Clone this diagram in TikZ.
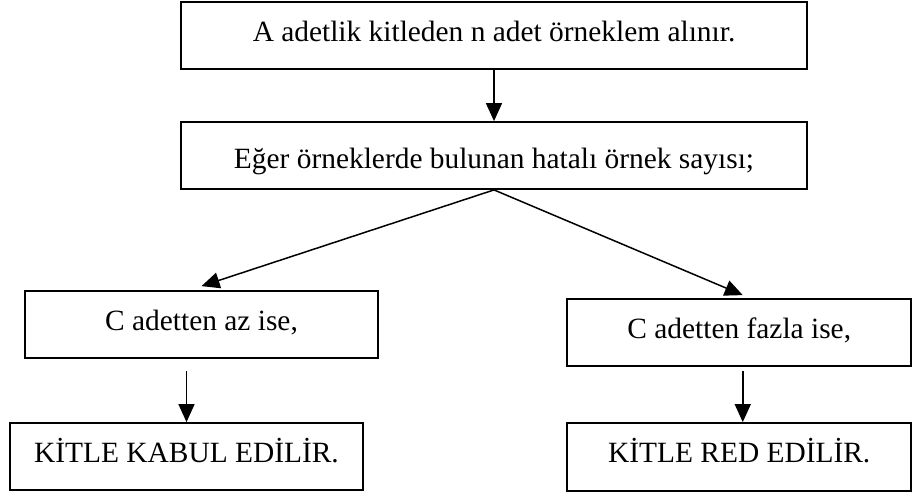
\documentclass[tikz,border=0pt]{standalone}
\usepackage{fontspec}
\setmainfont{Liberation Serif}
\usetikzlibrary{arrows.meta}

\begin{document}
\begin{tikzpicture}[x=0.5pt,y=-0.5pt,
  box/.style={draw=black, line width=0.9pt, rectangle, inner sep=0pt,
    minimum height=33.5pt, font=\fontsize{14.7pt}{17pt}\selectfont,
    text height=9pt, text depth=3.5pt},
  arr/.style={line width=0.75pt, -{Triangle[length=9pt,width=8pt]}}]
\useasboundingbox (0,0) rectangle (913,495);

% boxes of the acceptance sampling procedure
\node[box, minimum width=313pt] (top)   at (494,35.5)
  {A adetlik kitleden n adet örneklem alınır.};
\node[box, minimum width=313pt, text height=14pt, text depth=1.5pt] (q) at (494,155.5)
  {Eğer örneklerde bulunan hatalı örnek sayısı;};
\node[box, minimum width=176.5pt] (az)    at (201.5,324.5) {C adetten az ise,};
\node[box, minimum width=172pt]   (fazla) at (739.25,332.5) {C adetten fazla ise,};
\node[box, minimum width=176.5pt] (kabul) at (186.5,456.5) {KİTLE KABUL EDİLİR.};
\node[box, minimum width=172pt, minimum height=34pt] (red) at (739.25,457) {KİTLE RED EDİLİR.};

% connectors
\draw[arr] (top) -- (q);
\draw[arr] (q.south) -- ([yshift=2pt]az.north);
\draw[arr] (q.south) -- ([xshift=1.75pt,yshift=1.5pt]fazla.north);
\coordinate (azout) at ([yshift=-6pt]az.south);
\draw[arr] (azout -| kabul.north) -- (kabul.north);
\draw[arr] ([xshift=1.75pt,yshift=-2pt]fazla.south) -- ([xshift=1.75pt]red.north);
\end{tikzpicture}
\end{document}
